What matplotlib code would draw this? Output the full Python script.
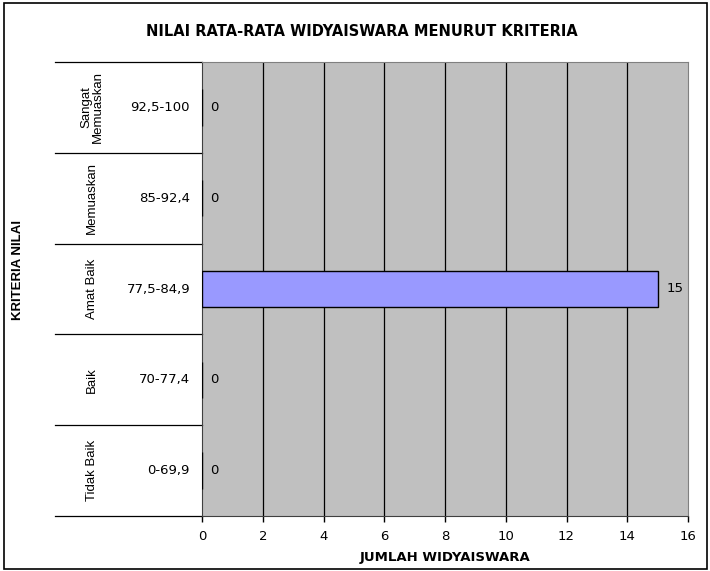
import numpy as np
import matplotlib.pyplot as plt
from matplotlib.patches import Rectangle
import matplotlib.transforms as mtransforms

plt.rcParams['font.family'] = ['DejaVu Sans']

# data, bottom row first
criteria = ['Tidak Baik', 'Baik', 'Amat Baik', 'Memuaskan', 'Sangat\nMemuaskan']
ranges = ['0-69,9', '70-77,4', '77,5-84,9', '85-92,4', '92,5-100']
counts = [0, 0, 15, 0, 0]
xticks = np.arange(0, 17, 2)

fig = plt.figure(figsize=(7.1, 5.71), dpi=100)
ax = fig.add_axes([202 / 710, 1 - 516 / 571, 486 / 710, 454 / 571])
ax.set_facecolor('#c0c0c0')

ypos = np.arange(len(counts)) + 0.5
ax.barh(ypos, counts, height=0.4, color='#9999ff', edgecolor='black',
        linewidth=1.0, zorder=3)
for y, c in zip(ypos, counts):
    ax.text(c + 0.28, y, str(c), va='center', ha='left', fontsize=9.5)

ax.set_xlim(0, 16)
ax.set_ylim(0, len(counts))
ax.set_xticks(xticks)
ax.set_xticklabels([str(v) for v in xticks], fontsize=9.5)
ax.set_yticks([])
for xv in xticks[1:-1]:
    ax.axvline(xv, color='black', linewidth=0.9, zorder=2)
ax.tick_params(axis='x', length=4, width=1, pad=6)
for s in ['top', 'right']:
    ax.spines[s].set_color('#808080')
ax.spines['left'].set_color('#404040')
ax.spines['bottom'].set_color('#404040')

# label table left of the plot area
trans = mtransforms.blended_transform_factory(ax.transAxes, ax.transData)
x0 = (55 - 202) / 486
for yb in range(len(counts) + 1):
    ax.plot([x0, 0], [yb, yb], color='black', linewidth=0.9,
            transform=trans, clip_on=False)
for y, cr, rg in zip(ypos, criteria, ranges):
    ax.text((92 - 202) / 486, y, cr, rotation=90, ha='center', va='center',
            fontsize=9.5, family='Liberation Sans', transform=trans,
            linespacing=1.0)
    ax.text((190 - 202) / 486, y, rg, ha='right', va='center',
            fontsize=9.5, transform=trans)

ax.set_xlabel('JUMLAH WIDYAISWARA', fontsize=9.5, fontweight='bold',
              labelpad=6)
fig.text(18 / 710, 1 - 270 / 571, 'KRITERIA NILAI', rotation=90,
         ha='center', va='center', fontsize=9.5, fontweight='bold',
         family='Liberation Sans')
fig.text(362 / 710, 1 - 32 / 571,
         'NILAI RATA-RATA WIDYAISWARA MENURUT KRITERIA',
         ha='center', va='center', fontsize=10.5, fontweight='bold')

fig.patches.append(Rectangle((4 / 710, 2 / 571), 703 / 710, 566 / 571,
                             transform=fig.transFigure, fill=False,
                             edgecolor='black', linewidth=1.2))

fig.savefig('out.png', dpi=100)
